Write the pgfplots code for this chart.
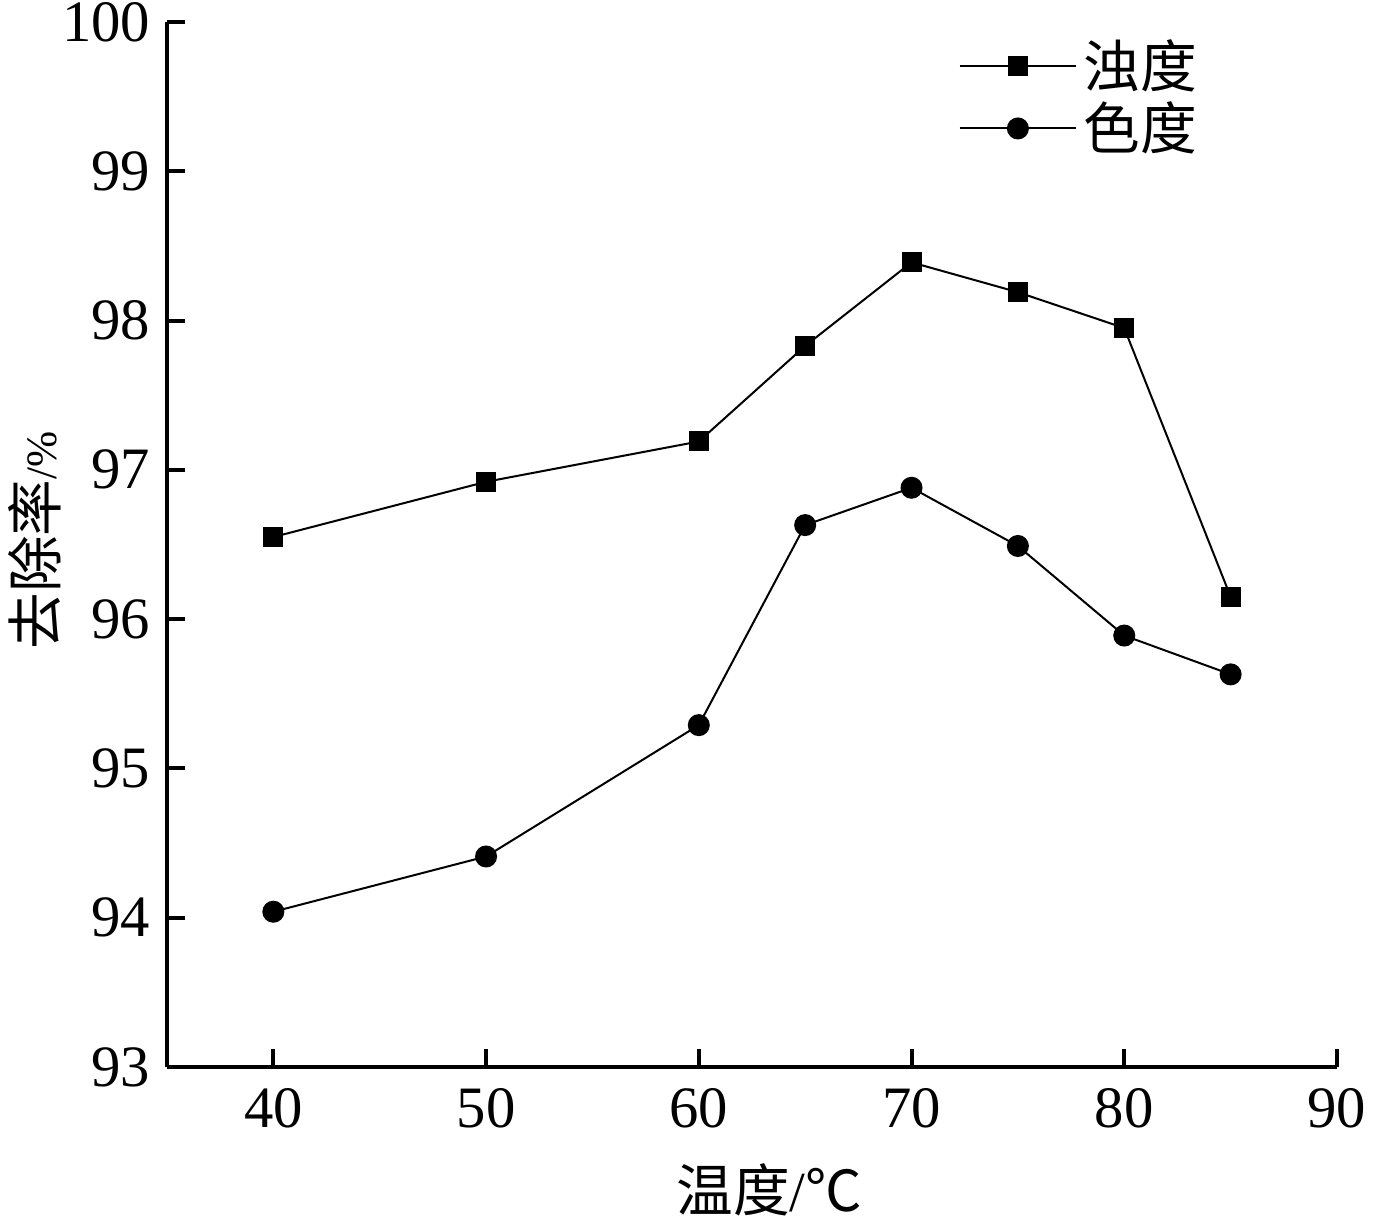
\documentclass[border=0pt]{standalone}
\usepackage{pgfplots}
\pgfplotsset{compat=1.18}
\usepackage{fontspec}
\setmainfont{Liberation Serif}
\newfontfamily\cjk{Noto Sans CJK SC}
\begin{document}
\begin{tikzpicture}
\path[use as bounding box] (-50.1pt,-45.9pt) rectangle (363pt,320.1pt);
\begin{axis}[
  at={(0,0)}, anchor=south west,
  scale only axis, width=351pt, height=313.5pt,
  xmin=35, xmax=90, ymin=93, ymax=100,
  xtick={40,50,...,90}, ytick={93,94,...,100},
  axis lines*=left,
  axis line style={line width=1.2pt},
  tick style={line width=1.2pt, black},
  tick align=inside, major tick length=5.4pt,
  /pgf/number format/assume math mode=true,
  tick label style={font=\fontsize{17.6}{20}\selectfont},
  xticklabel style={yshift=-3pt},
  yticklabel style={xshift=-1.5pt},
  xlabel={\cjk 温度\rmfamily/\cjk ℃},
  ylabel={\cjk 去除率\rmfamily\fontsize{13}{15}\selectfont/\%},
  label style={font=\fontsize{17}{20}\selectfont},
  xlabel style={at={(axis description cs:0.515,-0.118)}, anchor=center},
  ylabel style={at={(axis description cs:-0.113,0.504)}, anchor=center, rotate=0},
  legend style={draw=none, fill=none, at={(rel axis cs:0.676,0.99)}, anchor=north west,
    font=\fontsize{17}{19}\selectfont\cjk, row sep=-1.2pt, inner sep=0pt,
    /tikz/every even column/.append style={column sep=0pt},
    nodes={inner xsep=2pt}},
  legend cell align=left,
  legend image code/.code={\draw[mark repeat=2,mark phase=2] plot coordinates {(0pt,0pt)(17.5pt,0pt)(35pt,0pt)};},
]
\addplot[black, line width=0.6pt, mark=square*, mark size=2.7pt, mark options={solid}] coordinates {
(40,96.55) (50,96.92) (60,97.19) (65,97.83) (70,98.39) (75,98.19) (80,97.95) (85,96.15)};
\addlegendentry{浊度}
\addplot[black, line width=0.6pt, mark=*, mark size=3pt, mark options={solid}] coordinates {
(40,94.04) (50,94.41) (60,95.29) (65,96.63) (70,96.88) (75,96.49) (80,95.89) (85,95.63)};
\addlegendentry{色度}
\end{axis}
\end{tikzpicture}
\end{document}
